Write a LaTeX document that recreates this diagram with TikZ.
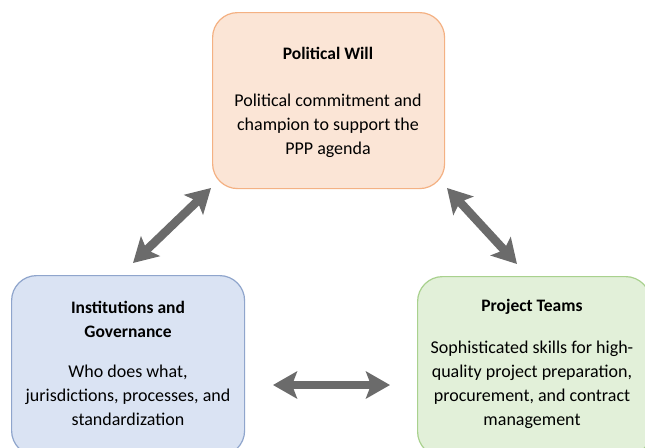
\documentclass[tikz,border=0pt]{standalone}
\usepackage{fontspec}
\setmainfont{Carlito}
\usetikzlibrary{arrows.meta}
\definecolor{pwfill}{HTML}{FBE5D6}
\definecolor{pwdraw}{HTML}{F4B183}
\definecolor{igfill}{HTML}{DAE3F3}
\definecolor{igdraw}{HTML}{8FA5CC}
\definecolor{ptfill}{HTML}{E2F0D9}
\definecolor{ptdraw}{HTML}{A9D18E}
\definecolor{arrowgray}{HTML}{6B6B6B}
\tikzset{
  box/.style={rounded corners=25pt, line width=1.2pt, inner sep=0pt, anchor=north west},
  label/.style={align=center, font=\fontsize{18}{24}\selectfont, inner sep=0pt, text=black},
  title/.style={label, font=\fontsize{17.5}{24}\selectfont\bfseries},
  dbl/.style={line width=8.5pt, draw=arrowgray, {Stealth[length=24pt,width=27pt,inset=5pt]}-{Stealth[length=24pt,width=27pt,inset=5pt]}}
}
\begin{document}
\begin{tikzpicture}[x=1pt,y=-1pt]
\useasboundingbox (0,0) rectangle (645,447);
\fill[white] (0,0) rectangle (645,447);
\clip (0,0) rectangle (645,447);
% boxes
\node[box, fill=pwfill, draw=pwdraw, minimum width=232pt, minimum height=176pt] (pw) at (212,12) {};
\node[box, fill=igfill, draw=igdraw, minimum width=233pt, minimum height=180pt] (ig) at (11,275) {};
\node[box, fill=ptfill, draw=ptdraw, minimum width=233pt, minimum height=180pt] (pt) at (417,276) {};
% texts
\node[title] (pwt) at (328,53) {Political Will};
\node[label] (pwb) at (328,126) {Political commitment and\\champion to support the\\PPP agenda};
\node[title] (igt) at (128,319) {Institutions and\\Governance};
\node[label] (igb) at (128,395) {Who does what,\\jurisdictions, processes, and\\standardization};
\node[title] (ptt) at (532,307) {Project Teams};
\node[label] (ptb) at (532,385) {Sophisticated skills for high-\\quality project preparation,\\procurement, and contract\\management};
% arrow ends
\coordinate (a1) at (133,263);
\coordinate (a2) at (211,188);
\coordinate (b1) at (447,188);
\coordinate (b2) at (517,264);
\coordinate (c1) at (273,385);
\coordinate (c2) at (390,385);
\draw[dbl] (a1) -- (a2);
\draw[dbl] (b1) -- (b2);
\draw[dbl] (c1) -- (c2);
\end{tikzpicture}
\end{document}
